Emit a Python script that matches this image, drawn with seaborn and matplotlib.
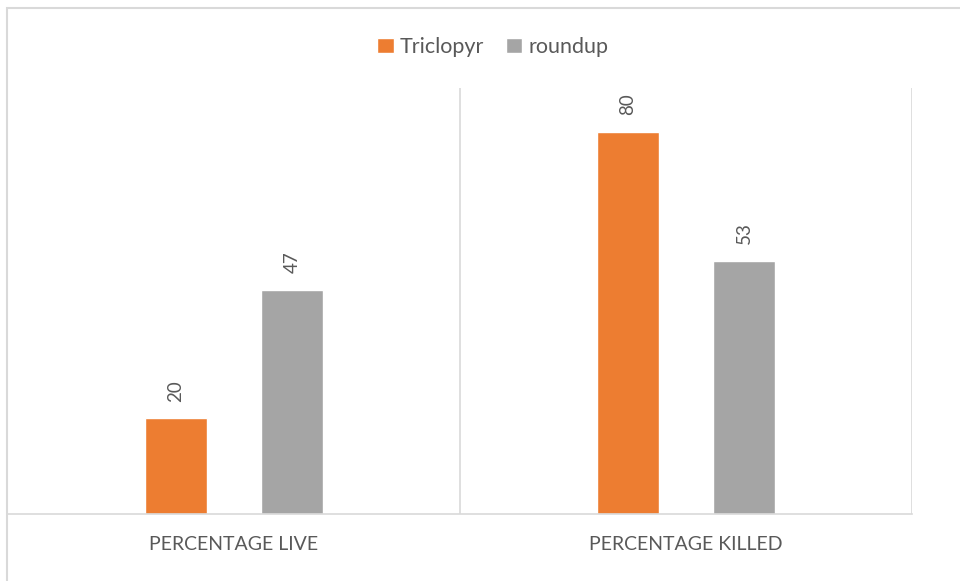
import matplotlib
matplotlib.use("Agg")
import matplotlib.pyplot as plt
from matplotlib.patches import Rectangle
import pandas as pd
import seaborn as sns

# Data
categories = ["PERCENTAGE LIVE", "PERCENTAGE KILLED"]
series = ["Triclopyr", "roundup"]
triclopyr = [20, 80]
roundup = [47, 53]
colors = ["#ED7D31", "#A5A5A5"]

df = pd.DataFrame({
    "category": categories * 2,
    "series": [series[0]] * 2 + [series[1]] * 2,
    "value": triclopyr + roundup,
})

sns.set_style("white")
plt.rcParams["font.family"] = ["Lato", "DejaVu Sans"]

fig = plt.figure(figsize=(9.6, 5.81), dpi=100)
ax = fig.add_axes([8 / 960, 67 / 581, 904 / 960, 426 / 581])

sns.barplot(data=df, x="category", y="value", hue="series", order=categories,
            hue_order=series, palette=colors, width=0.513, gap=0.47,
            saturation=1, errorbar=None, ax=ax)

for c in ax.containers:
    ax.bar_label(c, rotation=90, padding=12, fontsize=13.5, color="#595959")

ax.set_xlim(-0.5, 1.5)
ax.set_ylim(0, 89.2)
ax.set_xlabel("")
ax.set_ylabel("")
ax.set_yticks([])
ax.tick_params(axis="x", length=0, pad=16, labelsize=14, labelcolor="#595959")

# category separators
for xv in [0.5, 1.5]:
    ax.axvline(xv, color="#D9D9D9", lw=1.2, zorder=0)
for s in ["top", "left", "right"]:
    ax.spines[s].set_visible(False)
ax.spines["bottom"].set_color("#D9D9D9")
ax.spines["bottom"].set_linewidth(1.2)

handles, labels = ax.get_legend_handles_labels()
ax.legend(handles, labels, loc="center", bbox_to_anchor=(493 / 960, 1 - 47 / 581),
          bbox_transform=fig.transFigure, ncol=2, frameon=False, fontsize=15.5,
          handlelength=0.75, handleheight=0.75, handletextpad=0.3,
          columnspacing=1.0, labelcolor="#595959")

# chart border
fig.patches.append(Rectangle((6.5 / 960, -0.1), 1.2, 1.1 - 8 / 581, fill=False,
                             edgecolor="#D9D9D9", lw=1.5, transform=fig.transFigure))

fig.savefig("out.png", dpi=100)
